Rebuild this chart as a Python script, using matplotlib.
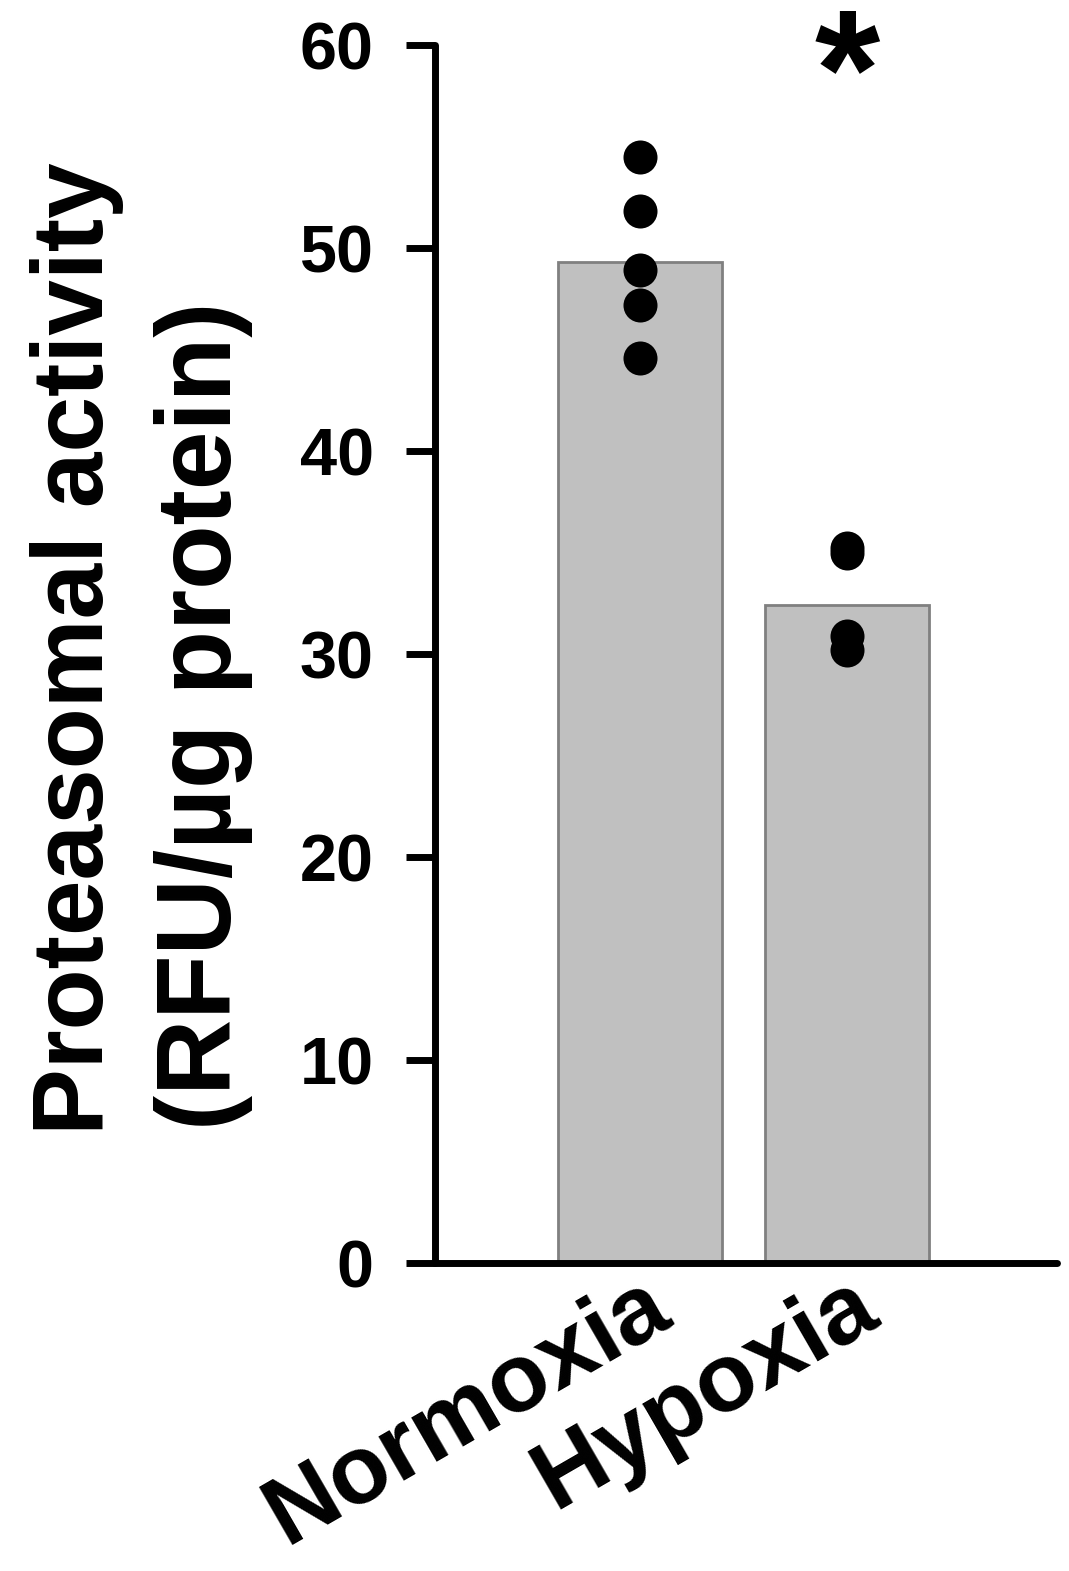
import matplotlib
matplotlib.use("Agg")
import matplotlib.pyplot as plt
import numpy as np

categories = ["Normoxia", "Hypoxia"]
bar_means = [49.3, 32.4]
normoxia_points = [54.5, 51.8, 48.9, 47.2, 44.6]
hypoxia_points = [35.2, 35.0, 30.9, 30.2]
yticks = [0, 10, 20, 30, 40, 50, 60]
ylabel_line1 = "Proteasomal activity"
ylabel_line2 = "(RFU/\u00b5g protein)"
sig_mark = "*"

plt.rcParams['font.family'] = ['Liberation Sans', 'DejaVu Sans']
plt.rcParams['font.weight'] = 'bold'

fig = plt.figure(figsize=(10.69, 15.71), dpi=100)
ax = fig.add_axes([0.4069, 0.19605, 0.5819, 0.7753])

x = np.arange(len(categories))
ax.bar(x, bar_means, width=0.79, color='#c0c0c0', edgecolor='#808080',
       linewidth=2, zorder=1)
for xi, pts in zip(x, [normoxia_points, hypoxia_points]):
    ax.scatter([xi] * len(pts), pts, s=600, color='black', zorder=3,
               linewidths=0)

ax.set_xlim(-0.988, 2.012)
ax.set_ylim(0, 60)
ax.set_yticks(yticks)
ax.set_yticklabels([str(t) for t in yticks], fontsize=48, fontweight='bold')
ax.tick_params(axis='y', direction='out', length=21, width=5, pad=23)
ax.set_xticks(x)
ax.set_xticklabels(categories, fontsize=70, fontweight='bold', rotation=30,
                   ha='right', va='top', rotation_mode='anchor')
ax.tick_params(axis='x', length=0, pad=-2)
for s in ['top', 'right']:
    ax.spines[s].set_visible(False)
for s in ['left', 'bottom']:
    ax.spines[s].set_linewidth(5)
    ax.spines[s].set_capstyle('round')

ax.text(1, 56.0, sig_mark, fontsize=121, fontweight='bold', ha='center',
        va='baseline')

fig.text(0.028, 0.2775, ylabel_line1, rotation=90, fontsize=72,
         fontweight='bold', ha='left', va='bottom')
fig.text(0.1445, 0.2805, ylabel_line2, rotation=90, fontsize=76,
         fontweight='bold', ha='left', va='bottom')

fig.savefig("out.png", dpi=100)
